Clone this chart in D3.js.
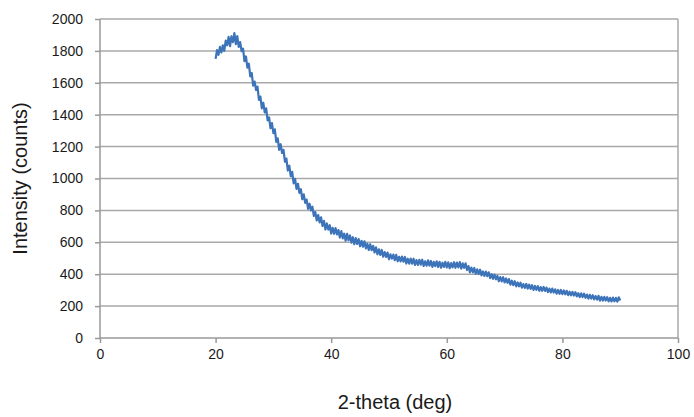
<!DOCTYPE html>
<html>
<head>
<meta charset="utf-8">
<script src="https://cdn.jsdelivr.net/npm/d3@7"></script>
<style>
  body { margin: 0; background: #fff; }
  text { font-family: "Liberation Sans", Arial, Helvetica, sans-serif; fill: #1a1a1a; }
</style>
</head>
<body>
<div id="chart"></div>
<script>
// measured 2-theta angles (deg)
var twoTheta = [
  20, 20.25, 20.5, 20.75, 21, 21.25, 21.5, 21.75, 22, 22.25, 22.5, 22.75, 23, 23.25, 23.5, 23.75, 24, 24.25, 24.5, 24.75,
  25, 25.25, 25.5, 25.75, 26, 26.25, 26.5, 26.75, 27, 27.25, 27.5, 27.75, 28, 28.25, 28.5, 28.75, 29, 29.25, 29.5, 29.75,
  30, 30.25, 30.5, 30.75, 31, 31.25, 31.5, 31.75, 32, 32.25, 32.5, 32.75, 33, 33.25, 33.5, 33.75, 34, 34.25, 34.5, 34.75,
  35, 35.25, 35.5, 35.75, 36, 36.25, 36.5, 36.75, 37, 37.25, 37.5, 37.75, 38, 38.25, 38.5, 38.75, 39, 39.25, 39.5, 39.75,
  40, 40.25, 40.5, 40.75, 41, 41.25, 41.5, 41.75, 42, 42.25, 42.5, 42.75, 43, 43.25, 43.5, 43.75, 44, 44.25, 44.5, 44.75,
  45, 45.25, 45.5, 45.75, 46, 46.25, 46.5, 46.75, 47, 47.25, 47.5, 47.75, 48, 48.25, 48.5, 48.75, 49, 49.25, 49.5, 49.75,
  50, 50.25, 50.5, 50.75, 51, 51.25, 51.5, 51.75, 52, 52.25, 52.5, 52.75, 53, 53.25, 53.5, 53.75, 54, 54.25, 54.5, 54.75,
  55, 55.25, 55.5, 55.75, 56, 56.25, 56.5, 56.75, 57, 57.25, 57.5, 57.75, 58, 58.25, 58.5, 58.75, 59, 59.25, 59.5, 59.75,
  60, 60.25, 60.5, 60.75, 61, 61.25, 61.5, 61.75, 62, 62.25, 62.5, 62.75, 63, 63.25, 63.5, 63.75, 64, 64.25, 64.5, 64.75,
  65, 65.25, 65.5, 65.75, 66, 66.25, 66.5, 66.75, 67, 67.25, 67.5, 67.75, 68, 68.25, 68.5, 68.75, 69, 69.25, 69.5, 69.75,
  70, 70.25, 70.5, 70.75, 71, 71.25, 71.5, 71.75, 72, 72.25, 72.5, 72.75, 73, 73.25, 73.5, 73.75, 74, 74.25, 74.5, 74.75,
  75, 75.25, 75.5, 75.75, 76, 76.25, 76.5, 76.75, 77, 77.25, 77.5, 77.75, 78, 78.25, 78.5, 78.75, 79, 79.25, 79.5, 79.75,
  80, 80.25, 80.5, 80.75, 81, 81.25, 81.5, 81.75, 82, 82.25, 82.5, 82.75, 83, 83.25, 83.5, 83.75, 84, 84.25, 84.5, 84.75,
  85, 85.25, 85.5, 85.75, 86, 86.25, 86.5, 86.75, 87, 87.25, 87.5, 87.75, 88, 88.25, 88.5, 88.75, 89, 89.25, 89.5, 89.75,
  90
];

// intensity (counts), noise included
var counts = [
  1750, 1805, 1775, 1825, 1790, 1835, 1800, 1865, 1835, 1888, 1830, 1892, 1855, 1911, 1842, 1893, 1825, 1855, 1798, 1814,
  1735, 1765, 1695, 1720, 1640, 1661, 1582, 1608, 1555, 1576, 1493, 1514, 1440, 1475, 1415, 1440, 1365, 1383, 1315, 1347,
  1285, 1308, 1230, 1252, 1180, 1215, 1160, 1180, 1105, 1125, 1050, 1080, 1015, 1042, 970, 998, 935, 967, 910, 933,
  870, 901, 847, 868, 810, 842, 800, 823, 765, 789, 737, 771, 725, 756, 702, 734, 680, 718, 680, 707,
  655, 691, 653, 689, 650, 677, 630, 670, 625, 654, 610, 653, 613, 643, 598, 632, 588, 626, 590, 620,
  575, 609, 573, 606, 562, 591, 552, 588, 551, 578, 536, 568, 525, 556, 521, 552, 510, 539, 508, 536,
  494, 525, 498, 523, 488, 521, 481, 509, 480, 510, 478, 508, 467, 497, 466, 498, 466, 497, 458, 489,
  458, 490, 460, 491, 452, 481, 453, 487, 454, 483, 446, 478, 450, 481, 445, 478, 441, 472, 446, 477,
  442, 474, 438, 470, 443, 475, 440, 473, 443, 476, 435, 468, 440, 468, 427, 451, 412, 441, 412, 439,
  403, 431, 401, 428, 393, 417, 389, 416, 388, 412, 376, 400, 371, 398, 368, 390, 356, 382, 355, 381,
  348, 373, 346, 369, 335, 359, 332, 356, 324, 348, 324, 347, 316, 338, 314, 339, 310, 334, 308, 331,
  302, 326, 302, 325, 296, 319, 296, 320, 295, 316, 288, 310, 286, 310, 285, 305, 278, 301, 277, 301,
  275, 298, 274, 296, 269, 290, 267, 289, 266, 287, 261, 281, 257, 280, 257, 278, 252, 272, 247, 271,
  247, 268, 242, 263, 240, 264, 234, 258, 235, 258, 235, 256, 230, 252, 229, 253, 230, 252, 228, 255,
  235
];

var xTicks = [0, 20, 40, 60, 80, 100];
var yTicks = [0, 200, 400, 600, 800, 1000, 1200, 1400, 1600, 1800, 2000];

var svgWidth = 694;
var svgHeight = 417;

var margin = { top: 19, right: 16, bottom: 79, left: 100 };
var width = svgWidth - margin.left - margin.right;
var height = svgHeight - margin.top - margin.bottom;

var svg = d3.select("#chart")
  .append("svg")
  .attr("width", svgWidth)
  .attr("height", svgHeight);

var g = svg.append("g")
  .attr("transform", `translate(${margin.left}, ${margin.top})`);

var x = d3.scaleLinear().domain([0, 100]).range([0, width]);
var y = d3.scaleLinear().domain([0, 2000]).range([height, 0]);

// horizontal gridlines
g.append("g")
  .selectAll("line")
  .data(yTicks.slice(1))
  .enter()
  .append("line")
  .attr("x1", 0)
  .attr("x2", width)
  .attr("y1", d => y(d))
  .attr("y2", d => y(d))
  .attr("stroke", "#a9a9a9")
  .attr("stroke-width", 1.5);

// right border of plot area
g.append("line")
  .attr("x1", width).attr("x2", width)
  .attr("y1", 0).attr("y2", height)
  .attr("stroke", "#a9a9a9")
  .attr("stroke-width", 1.5);

// axes
var leftAxis = d3.axisLeft(y).tickValues(yTicks).tickSize(5).tickPadding(12).tickFormat(d3.format("d"));
var bottomAxis = d3.axisBottom(x).tickValues(xTicks).tickSize(5).tickPadding(6).tickFormat(d3.format("d"));

var yAxisG = g.append("g").call(leftAxis);
var xAxisG = g.append("g")
  .attr("transform", `translate(0, ${height})`)
  .call(bottomAxis);

[yAxisG, xAxisG].forEach(function(a) {
  a.select(".domain").attr("stroke", "#999").attr("stroke-width", 1.5);
  a.selectAll(".tick line").attr("stroke", "#999").attr("stroke-width", 1.5);
  a.selectAll(".tick text")
    .attr("font-size", 14)
    .attr("font-family", "Liberation Sans, Arial, sans-serif")
    .attr("fill", "#1a1a1a");
});
yAxisG.select(".domain").attr("d", `M0,${height}V0`);
xAxisG.select(".domain").attr("d", `M0,0H${width}`);

// the scan
var line = d3.line()
  .x((d, i) => x(twoTheta[i]))
  .y(d => y(d));

g.append("path")
  .datum(counts)
  .attr("d", line)
  .attr("fill", "none")
  .attr("stroke", "#3d74b9")
  .attr("stroke-width", 2.2)
  .attr("stroke-linejoin", "round");

// axis titles
svg.append("text")
  .attr("transform", `translate(27, ${margin.top + height / 2}) rotate(-90)`)
  .attr("text-anchor", "middle")
  .attr("font-size", 20)
  .text("Intensity (counts)");

svg.append("text")
  .attr("x", 395)
  .attr("y", 409)
  .attr("text-anchor", "middle")
  .attr("font-size", 20)
  .text("2-theta (deg)");
</script>
</body>
</html>
